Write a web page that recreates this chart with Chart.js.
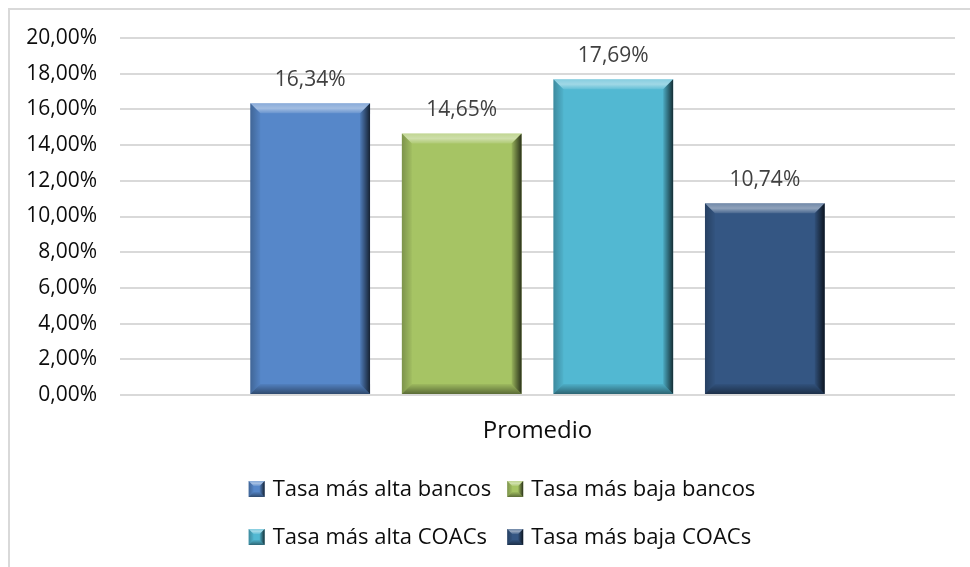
<!DOCTYPE html>
<html>
<head>
<meta charset="utf-8">
<script src="https://cdn.jsdelivr.net/npm/chart.js@4"></script>
<style>
  html, body { margin: 0; padding: 0; background: #fff; overflow: hidden; }
  #box { position: absolute; left: 8px; top: 8px; border-left: 2px solid #d9d9d9; border-top: 2px solid #d9d9d9; }
  canvas { display: block; }
</style>
</head>
<body>
<div id="box"><canvas id="grafico" width="984" height="560"></canvas></div>
<script>
const categorias = ['Promedio'];
const series = ['Tasa más alta bancos', 'Tasa más baja bancos', 'Tasa más alta COACs', 'Tasa más baja COACs'];
const valores = [16.34, 14.65, 17.69, 10.74];
const colores = ['#5687c9', '#a6c464', '#52b8d2', '#345683'];
const ticksY = [0, 2, 4, 6, 8, 10, 12, 14, 16, 18, 20];

const FONT = "'Open Sans', 'Noto Sans', sans-serif";
const fmt = v => v.toFixed(2).replace('.', ',') + '%';

// relieve tipo Excel sobre un rectangulo
function bisel(ctx, l, t, r, b, d) {
  let g;
  ctx.save();
  // arriba
  g = ctx.createLinearGradient(0, t, 0, t + d);
  g.addColorStop(0, 'rgba(255,255,255,0.3)');
  g.addColorStop(0.5, 'rgba(255,255,255,0.45)');
  g.addColorStop(1, 'rgba(255,255,255,0.1)');
  ctx.fillStyle = g;
  ctx.beginPath(); ctx.moveTo(l, t); ctx.lineTo(r, t); ctx.lineTo(r - d, t + d); ctx.lineTo(l + d, t + d); ctx.closePath(); ctx.fill();
  // izquierda
  g = ctx.createLinearGradient(l, 0, l + d, 0);
  g.addColorStop(0, 'rgba(0,0,0,0.25)');
  g.addColorStop(1, 'rgba(0,0,0,0.03)');
  ctx.fillStyle = g;
  ctx.beginPath(); ctx.moveTo(l, t); ctx.lineTo(l + d, t + d); ctx.lineTo(l + d, b - d); ctx.lineTo(l, b); ctx.closePath(); ctx.fill();
  // derecha
  g = ctx.createLinearGradient(r - d, 0, r, 0);
  g.addColorStop(0, 'rgba(0,0,0,0.08)');
  g.addColorStop(1, 'rgba(0,0,0,0.75)');
  ctx.fillStyle = g;
  ctx.beginPath(); ctx.moveTo(r, t); ctx.lineTo(r, b); ctx.lineTo(r - d, b - d); ctx.lineTo(r - d, t + d); ctx.closePath(); ctx.fill();
  // abajo
  g = ctx.createLinearGradient(0, b - d, 0, b);
  g.addColorStop(0, 'rgba(0,0,0,0.05)');
  g.addColorStop(1, 'rgba(0,0,0,0.45)');
  ctx.fillStyle = g;
  ctx.beginPath(); ctx.moveTo(l, b); ctx.lineTo(r, b); ctx.lineTo(r - d, b - d); ctx.lineTo(l + d, b - d); ctx.closePath(); ctx.fill();
  ctx.restore();
}

const pluginBarras = {
  id: 'barras',
  afterDatasetsDraw(chart) {
    const ctx = chart.ctx;
    chart.data.datasets.forEach((ds, i) => {
      const meta = chart.getDatasetMeta(i);
      meta.data.forEach((el, j) => {
        const p = el.getProps(['x', 'y', 'base', 'width'], true);
        const l = p.x - p.width / 2, r = p.x + p.width / 2;
        bisel(ctx, l, p.y, r, p.base, 10);
        ctx.save();
        ctx.fillStyle = '#404040';
        ctx.font = '21px ' + FONT;
        ctx.textAlign = 'center';
        ctx.textBaseline = 'middle';
        ctx.fillText(fmt(ds.data[j]), p.x, p.y - 23);
        ctx.restore();
      });
    });
  }
};

// leyenda en dos filas y dos columnas
const pluginLeyenda = {
  id: 'leyenda',
  afterDraw(chart) {
    const ctx = chart.ctx;
    const caja = 16, hueco = 8, sepCol = 16;
    const filas = [479, 527];
    ctx.save();
    ctx.font = '22px ' + FONT;
    const anchos = series.map(s => caja + hueco + ctx.measureText(s).width);
    const col0 = Math.max(anchos[0], anchos[2]);
    const col1 = Math.max(anchos[1], anchos[3]);
    const total = col0 + sepCol + col1;
    const x0 = chart.width / 2 - total / 2;
    const xs = [x0, x0 + col0 + sepCol];
    series.forEach((s, i) => {
      const x = xs[i % 2];
      const y = filas[Math.floor(i / 2)];
      ctx.fillStyle = colores[i];
      ctx.fillRect(x, y - caja / 2, caja, caja);
      bisel(ctx, x, y - caja / 2, x + caja, y + caja / 2, 5);
      ctx.fillStyle = '#0d0d0d';
      ctx.textAlign = 'left';
      ctx.textBaseline = 'middle';
      ctx.fillText(s, x + caja + hueco, y + 1);
    });
    ctx.restore();
  }
};

new Chart(document.getElementById('grafico'), {
  type: 'bar',
  data: {
    labels: categorias,
    datasets: series.map((s, i) => ({
      label: s,
      data: [valores[i]],
      backgroundColor: colores[i],
      borderWidth: 0,
      barPercentage: 0.79,
      categoryPercentage: 0.726
    }))
  },
  options: {
    responsive: false,
    animation: false,
    layout: { padding: { top: 28, right: 39, left: 0, bottom: 0 } },
    plugins: {
      legend: { display: false },
      tooltip: { enabled: false }
    },
    scales: {
      x: {
        grid: { display: false, drawTicks: false },
        border: { display: false },
        ticks: { color: '#0d0d0d', font: { family: FONT, size: 24 }, padding: 22 },
        afterFit: s => { s.height = 175; s.paddingLeft = 0; s.paddingRight = 0; }
      },
      y: {
        min: ticksY[0],
        max: ticksY[ticksY.length - 1],
        afterBuildTicks: s => { s.ticks = ticksY.map(v => ({ value: v })); },
        grid: { color: '#d9d9d9', lineWidth: 2, drawTicks: false },
        border: { display: false },
        ticks: { color: '#0d0d0d', font: { family: FONT, size: 21 }, padding: 23, callback: v => fmt(v) },
        afterFit: s => { s.width = 110; s.paddingTop = 0; s.paddingBottom = 0; }
      }
    }
  },
  plugins: [pluginBarras, pluginLeyenda]
});
</script>
</body>
</html>
